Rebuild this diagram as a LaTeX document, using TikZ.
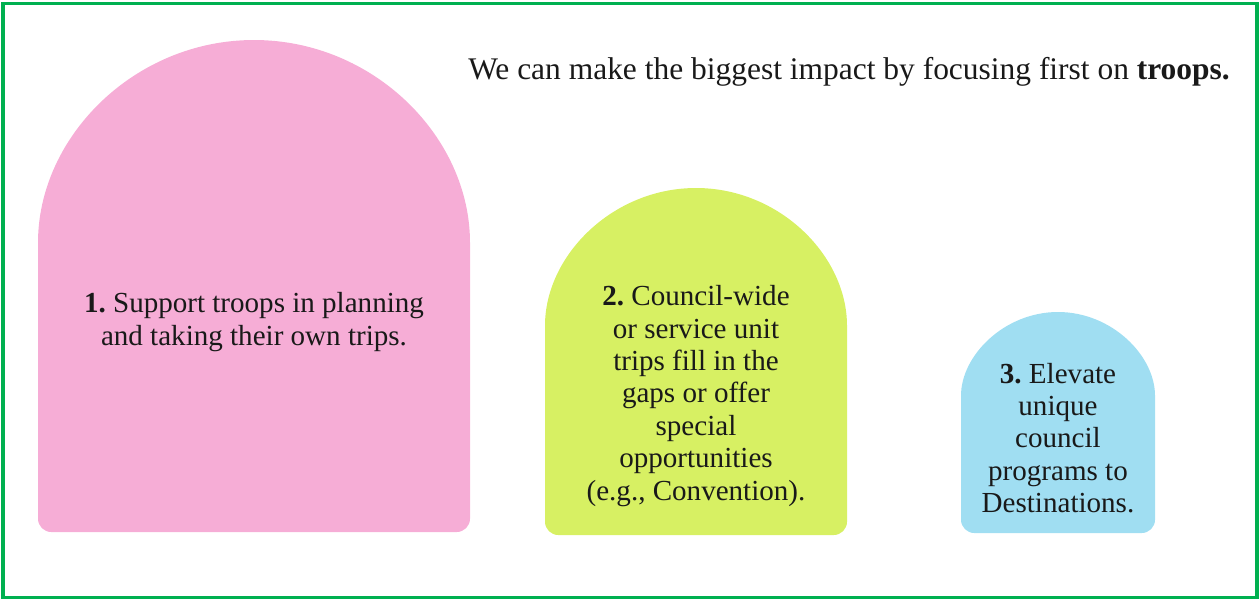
\documentclass[tikz,border=0pt]{standalone}
\usepackage{fontspec}
\setmainfont{Liberation Serif}
\usepackage{xcolor}

\begin{document}
\begin{tikzpicture}[x=0.75pt, y=0.75pt]
  \definecolor{framecol}{RGB}{0,176,80}
  \definecolor{pinkcol}{RGB}{246,173,214}
  \definecolor{limecol}{RGB}{215,240,99}
  \definecolor{skycol}{RGB}{160,222,242}
  \colorlet{inkcol}{black!90}

  \tikzset{
    arch/.style={fill=#1, draw=none, rounded corners=10pt},
    steptext/.style={
      align=center, inner sep=0pt, text=inkcol,
      font=\fontsize{21.8}{24.3}\selectfont\frenchspacing
    },
    headtext/.style={
      anchor=base west, inner sep=0pt, text=inkcol,
      font=\fontsize{23.6}{27}\selectfont\frenchspacing
    }
  }

  \useasboundingbox (0,0) rectangle (1260,-601);
  \draw[framecol, line width=2.4pt] (3,-3.5) rectangle (1257,-597.5);

  % arches: colour / left / right / top / bottom
  \foreach \col/\xl/\xr/\yt/\yb in {pinkcol/38/470/40/532, limecol/545/847/188/535, skycol/961/1155/312/533} {
    \pgfmathsetmacro\rad{(\xr-\xl)/2}
    \fill[arch=\col] (\xr,-\yt-\rad) arc[start angle=0, end angle=180, radius=\rad]
      -- (\xl,-\yb) -- (\xr,-\yb) -- cycle;
  }

  \node[headtext] (headline) at (468,-79)
    {We can make the biggest impact by focusing first on \textbf{troops.}};

  \node[steptext] (trooptext) at (254,-322)
    {\textbf{1.} Support troops in planning\\and taking their own trips.};
  \node[steptext] (unittext) at (696,-396)
    {\textbf{2.} Council-wide\\or service unit\\trips fill in the\\gaps or offer\\special\\opportunities\\(e.g., Convention).};
  \node[steptext] (desttext) at (1058,-438)
    {\textbf{3.} Elevate\\unique\\council\\programs to\\Destinations.};
\end{tikzpicture}
\end{document}
